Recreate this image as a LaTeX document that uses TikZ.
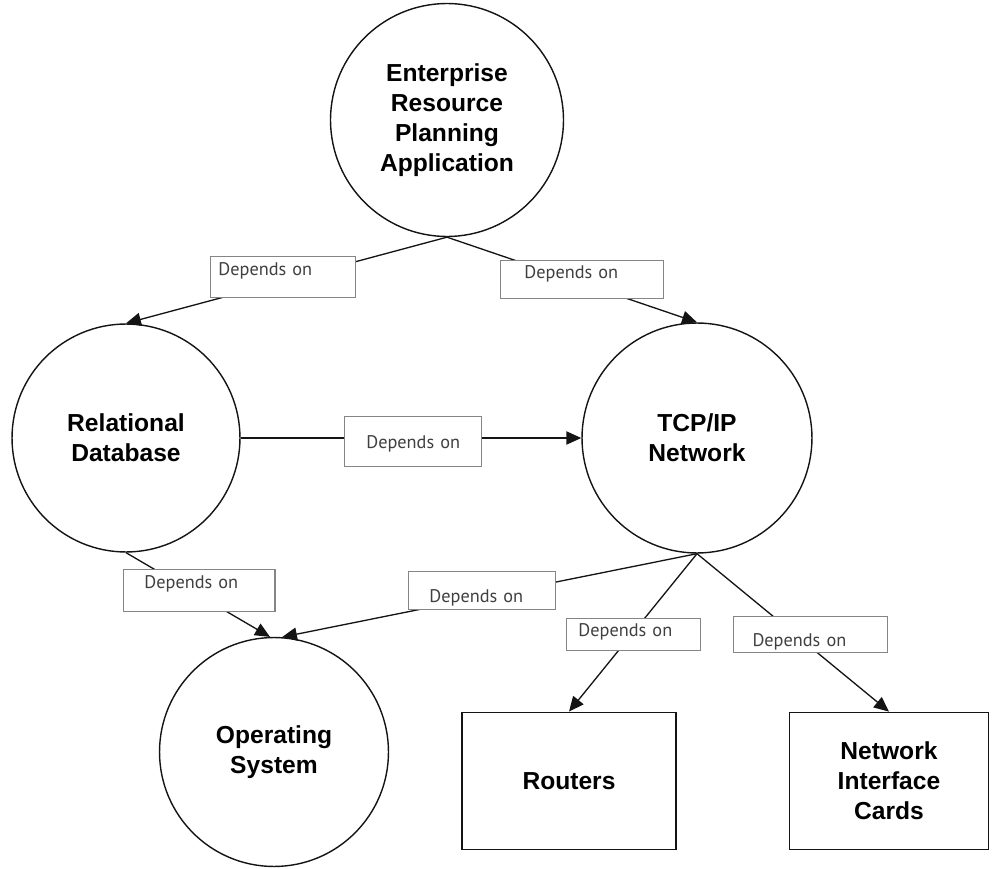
\documentclass[tikz,border=0pt]{standalone}
\usepackage{fontspec}
\setmainfont{Liberation Sans}
\newfontfamily\depfont{PT Sans}
\usepackage{tikz}
\usetikzlibrary{arrows.meta}
\definecolor{dpink}{HTML}{141414}
\definecolor{dpline}{HTML}{858585}
\definecolor{dptext}{HTML}{404040}
\tikzset{
  dpcirc/.style={circle, draw=dpink, line width=0.8pt, fill=white, align=center, inner sep=0pt,
    font=\bfseries\fontsize{14}{17}\selectfont},
  dprect/.style={rectangle, draw=dpink, line width=1pt, fill=white, align=center, inner sep=0pt,
    minimum height=2.74cm, font=\bfseries\fontsize{14}{17}\selectfont},
  dplabel/.style={rectangle, draw=dpline, line width=0.6pt, fill=white, anchor=north west, align=left,
    inner ysep=0pt, text=dptext, font=\depfont\fontsize{10.4}{12}\selectfont},
  dparrow/.style={-{Triangle[length=8.5pt,width=7.5pt]}, line width=0.75pt, draw=dpink}
}

\begin{document}
\begin{tikzpicture}[x=0.02cm, y=-0.02cm]
\useasboundingbox (0,0) rectangle (992,869);
\node[dpcirc, minimum size=4.66cm] (erp) at (447,120) {Enterprise\\Resource\\Planning\\Application};
\node[dpcirc, minimum size=4.56cm] (rdb) at (126,438) {Relational\\Database};
\node[dpcirc, minimum size=4.6cm] (tcp) at (697,438) {TCP/IP\\Network};
\node[dpcirc, minimum size=4.58cm] (os) at (274,752) {Operating\\System};
\node[dprect, minimum width=4.28cm] (routers) at (569,781) {Routers};
\node[dprect, minimum width=3.98cm] (nic) at (889,781) {Network\\Interface\\Cards};
\draw[dparrow] (erp.south) -- (rdb.north);
\draw[dparrow] (erp.south) -- (tcp.north);
\draw[dparrow] (rdb.east) -- (tcp.west);
\draw[dparrow] (rdb.south) -- (os.92);
\draw[dparrow] (tcp.south) -- (os.86);
\draw[dparrow] (tcp.south) -- (routers.north);
\draw[dparrow] (tcp.south) -- (nic.north);
\node[dplabel, inner xsep=4.5pt, text width=73.7pt, text height=10.8pt, text depth=12.5pt] (lblerprdb) at (210,256) {Depends on};
\node[dplabel, inner xsep=13.6pt, text width=65.8pt, text height=10.2pt, text depth=11.3pt] (lblerptcp) at (500,260) {Depends on};
\node[dplabel, align=center, inner xsep=4pt, text width=70.2pt, text height=18.1pt, text depth=10.2pt] (lblrdbtcp) at (344,416) {Depends on};
\node[dplabel, inner xsep=11.9pt, text width=62.4pt, text height=10.8pt, text depth=13pt] (lblrdbos) at (123,569) {Depends on};
\node[dplabel, inner xsep=11.9pt, text width=60.1pt, text height=17.6pt, text depth=4pt] (lbltcpos) at (408,571) {Depends on};
\node[dplabel, inner xsep=6.8pt, text width=62.4pt, text height=10.2pt, text depth=7.9pt] (lbltcprt) at (566,618) {Depends on};
\node[dplabel, inner xsep=10.8pt, text width=65.8pt, text height=17pt, text depth=3.4pt] (lbltcpnic) at (733,616) {Depends on};
\end{tikzpicture}
\end{document}
